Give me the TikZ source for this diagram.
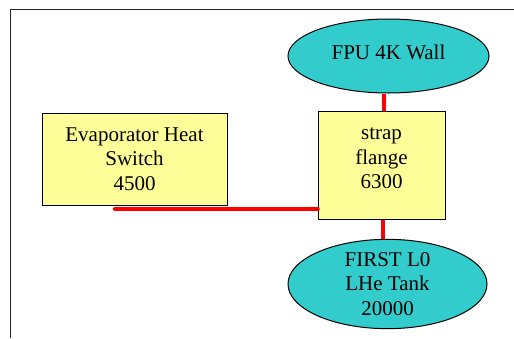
\documentclass[tikz,border=0pt]{standalone}
\usepackage{fontspec}
\setmainfont{Liberation Serif}
\usetikzlibrary{shapes.geometric}
\definecolor{boxyellow}{RGB}{255,255,153}
\definecolor{tankcyan}{RGB}{51,204,204}

\begin{document}
\begin{tikzpicture}[x=1pt, y=-1pt,
    part/.style={draw, line width=1pt, fill=boxyellow, rectangle, align=center,
        font=\rmfamily\fontsize{21}{24.5}\selectfont, inner sep=0pt},
    sink/.style={draw, line width=1pt, fill=tankcyan, ellipse, align=center,
        font=\rmfamily\fontsize{21}{24.5}\selectfont, inner sep=0pt},
    strap/.style={red, line width=4.5pt}]
\useasboundingbox (0,0) rectangle (514,338);
\draw[line width=1.3pt, black!85](10.5,338) -- (10.5,9.5) -- (514,9.5);
\node[part, minimum width=185pt, minimum height=92pt] (evap) at (134.5,159){Evaporator Heat\\Switch\\4500};
\node[part, minimum width=127pt, minimum height=108pt, text depth=13pt] (flange) at (381.5,165){strap\\flange\\6300};
\node[sink, minimum width=201pt, minimum height=74pt, text depth=8pt] (wall) at (388.5,56){FPU 4K Wall};
\node[sink, minimum width=199pt, minimum height=86pt] (tank) at (387.5,284){FIRST L0\\LHe Tank\\20000};
\coordinate (evapend) at (115,209);
% links
\draw[strap, line cap=round](evapend) -- (evapend -| flange.west);
\draw[strap](wall.south -| 384,0) -- (flange.north -| 384,0);
\draw[strap](flange.south -| 383,0) -- (tank.north -| 383,0);
\end{tikzpicture}
\end{document}
